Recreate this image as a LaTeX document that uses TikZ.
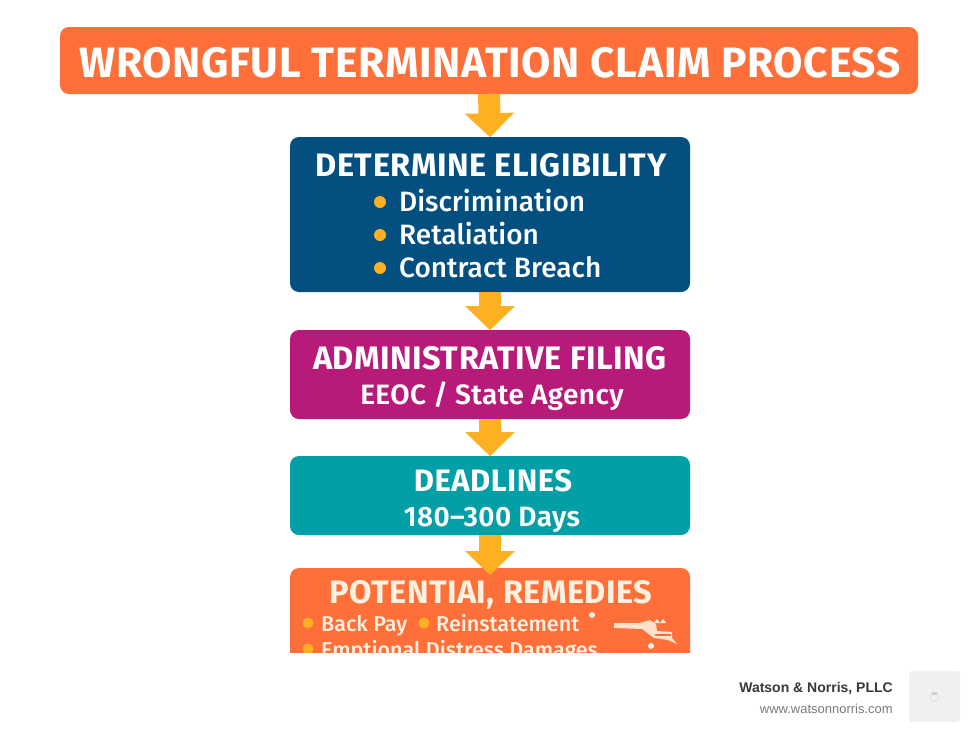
\documentclass[tikz,border=0pt]{standalone}
\usepackage{fontspec}
\setmainfont{Fira Sans}
\newfontfamily\med{Fira Sans Medium}
\newfontfamily\semi{Fira Sans SemiBold}[LetterSpace=1.5]
\newfontfamily\headf{Fira Sans}[LetterSpace=1.6,BoldFont=Fira Sans Bold]
\newfontfamily\foot{Liberation Sans}
\usetikzlibrary{arrows.meta}
\definecolor{orangeC}{HTML}{FF6F3A}
\definecolor{blueC}{HTML}{024F80}
\definecolor{magC}{HTML}{B71A78}
\definecolor{tealC}{HTML}{02A0A6}
\definecolor{amberC}{HTML}{FDB022}
\definecolor{creamC}{HTML}{FFF1E0}
\tikzset{
 stage/.style={rounded corners=9pt,minimum width=400pt,inner sep=0pt,outer sep=0pt,text=white},
 heading/.style={text=white,font=\headf\bfseries\fontsize{32.5}{33}\selectfont,inner sep=0pt,anchor=base},
 sub/.style={text=white,font=\semi\fontsize{28}{28}\selectfont,inner sep=0pt,anchor=base},
 flow/.style={draw=amberC,line width=22pt,-{Triangle[length=24pt,width=48pt,fill=amberC]},shorten >=-0.2pt},
 dot/.style={circle,fill=amberC,inner sep=0pt,minimum size=12pt},
 smalldot/.style={circle,fill=amberC,inner sep=0pt,minimum size=11pt},
 bigitem/.style={text=white,font=\med\fontsize{28}{28}\selectfont,inner sep=0pt,anchor=base west},
 item/.style={text=creamC,font=\med\fontsize{21.5}{22}\selectfont,inner sep=0pt,anchor=base west},
}
\begin{document}
\begin{tikzpicture}[x=1pt,y=-1pt]
\useasboundingbox (0,0) rectangle (980,736);
% boxes
\node[stage,fill=orangeC,minimum width=858pt,minimum height=67pt] (title) at (489,60.5) {};
\node[stage,fill=blueC,minimum height=155pt] (elig) at (490,214.5) {};
\node[stage,fill=magC,minimum height=89pt] (admin) at (490,374.5) {};
\node[stage,fill=tealC,minimum height=79pt] (dead) at (490,495.5) {};
\node[stage,fill=orangeC,minimum height=110pt] (rem) at (490,623) {};
% connectors
\draw[flow] (title.south) -- (elig.north);
\draw[flow] (elig.south) -- (admin.north);
\draw[flow] (admin.south) -- (dead.north);
\draw[flow] (dead.south) -- ([yshift=-7pt]rem.north);
% title
\node[text=white,font=\headf\bfseries\fontsize{42.5}{43}\selectfont,inner sep=0pt,anchor=base] (tt) at (490,77) {WRONGFUL TERMINATION CLAIM PROCESS};
% eligibility
\node[heading] (h1) at (491,176) {DETERMINE ELIGIBILITY};
\node[dot] (d1) at (380,202) {};
\node[dot] (d2) at (380,235) {};
\node[dot] (d3) at (380,268) {};
\node[bigitem] (i1) at (399,211) {Discrimination};
\node[bigitem] (i2) at (399,244) {Retaliation};
\node[bigitem] (i3) at (399,277) {Contract Breach};
% admin
\node[heading] (h2) at (490,369) {ADMINISTRATIVE FILING};
\node[sub] (s2) at (492,404) {EEOC / State Agency};
% deadlines
\node[heading,font=\headf\bfseries\fontsize{31}{31}\selectfont] (h3) at (493,491) {DEADLINES};
\node[sub] (s3) at (492,526) {180–300 Days};
% remedies
\node[heading,text=creamC] (h4) at (491,603) {POTENTIAI, REMEDIES};
\node[smalldot] (b1) at (308,623) {};
\node[item] (r1) at (321,631) {Back Pay};
\node[smalldot] (b2) at (424,623) {};
\node[item] (r2) at (436,631) {Reinstatement};
\node[smalldot] (b3) at (308,649) {};
\node[item] (r3) at (321,657) {Emptional Distress Damages};
% decorative glyph
\fill[creamC] (592,615) circle (3pt);
\fill[creamC] (651,646) circle (3pt);
\fill[creamC!88!orangeC] (614,623) -- (640,623) -- (650,620) -- (656,624) -- (657,631) -- (672,632) -- (672,638) -- (677,644) -- (668,640) -- (654,638) -- (642,629) -- (614,628) -- cycle;
\fill[orangeC!70!brown] (655,634) rectangle (671,635.5);
\fill[creamC] (654,623) -- (657,619) -- (660,623) -- cycle;
\fill[creamC] (660,623) -- (663,619) -- (666,623) -- cycle;
% cut off at the foot
\fill[white] (0,653) rectangle (980,736);
% footer
\node[font=\foot\bfseries\fontsize{14}{15}\selectfont,text=black!78,inner sep=0pt,anchor=base east] (firm) at (893,692) {Watson \& Norris, PLLC};
\node[font=\foot\fontsize{13}{14}\selectfont,text=black!52,inner sep=0pt,anchor=base east] (web) at (893,713) {www.watsonnorris.com};
\node[fill=black!6,rounded corners=3pt,minimum size=51pt,inner sep=0pt] (logo) at (934.5,696.5) {};
\draw[black!12,line width=.8pt] (934.5,697) circle (4.5pt);
\fill[black!18] (932,692) rectangle (937,695);
\end{tikzpicture}
\end{document}
